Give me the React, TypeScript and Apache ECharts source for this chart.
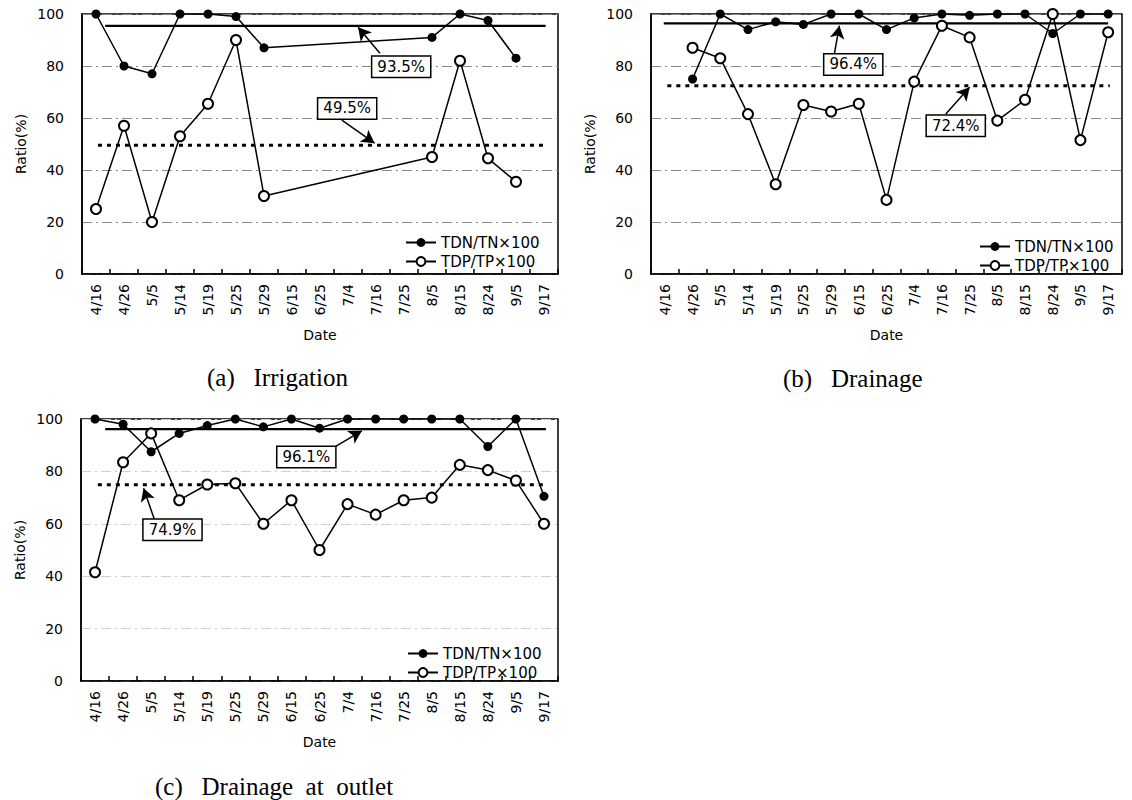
import React, { useEffect, useRef } from "react";
import * as echarts from "echarts";

const categories = ["4/16", "4/26", "5/5", "5/14", "5/19", "5/25", "5/29", "6/15", "6/25", "7/4", "7/16", "7/25", "8/5", "8/15", "8/24", "9/5", "9/17"];

const tdnA = [100, 80, 77, 100, 100, 99, 87, null, null, null, null, null, 91, 100, 97.5, 83, null];
const tdpA = [25, 57, 20, 53, 65.5, 90, 30, null, null, null, null, null, 45, 82, 44.5, 35.5, null];

const tdnB = [null, 75, 100, 94, 97, 96, 100, 100, 94, 98.5, 100, 99.5, 100, 100, 92.5, 100, 100];
const tdpB = [null, 87, 83, 61.5, 34.5, 65, 62.5, 65.5, 28.5, 74, 95.5, 91, 59, 67, 100, 51.5, 93];

const tdnC = [100, 98, 87.5, 94.5, 97.5, 100, 97, 100, 96.5, 100, 100, 100, 100, 100, 89.5, 100, 70.5];
const tdpC = [41.5, 83.5, 94.5, 69, 75, 75.5, 60, 69, 50, 67.5, 63.5, 69, 70, 82.5, 80.5, 76.5, 60];

// mean reference levels (as drawn) and their labels
const tnLevels = [95.4, 96.4, 96.1];
const tpLevels = [49.5, 72.4, 74.9];
const tnLabels = ["93.5%", "96.4%", "96.1%"];
const tpLabels = ["49.5%", "72.4%", "74.9%"];

const captions = ["(a)   Irrigation", "(b)   Drainage", "(c)   Drainage  at  outlet"];
const seriesNames = ["TDN/TN×100", "TDP/TP×100"];
const yTicks = [0, 20, 40, 60, 80, 100];

const FONT = "DejaVu Sans";

const panels = [
  {
    grid: { left: 82, top: 14, width: 476, height: 260 },
    tdn: tdnA, tdp: tdpA,
    tnSpan: [0.33, 16.06], tpSpan: [0.07, 16.1],
    tnBox: [10.9, 79.7], tnArrow: [[10.14, 84.9], [9.36, 94.9]],
    tpBox: [8.97, 63.7], tpArrow: [[8.78, 59.2], [9.95, 50.3]],
    legend: { left: 400, top: 230 },
    caption: { left: 207, top: 365 },
    gridColor: "#8a8a8a",
  },
  {
    grid: { left: 651, top: 14, width: 471, height: 260 },
    tdn: tdnB, tdp: tdpB,
    tnSpan: [-0.04, 16.0], tpSpan: [0.09, 16.06],
    tnBox: [6.8, 80.6], tnArrow: [[6.11, 84.2], [6.3, 95.5]],
    tpBox: [10.5, 57.0], tpArrow: [[10.14, 61.5], [11.0, 71.8]],
    legend: { left: 974, top: 234 },
    caption: { left: 783, top: 366 },
    gridColor: "#8a8a8a",
  },
  {
    grid: { left: 81, top: 419, width: 477, height: 262 },
    tdn: tdnC, tdp: tdpC,
    tnSpan: [0.36, 16.07], tpSpan: [0.1, 16.07],
    tnBox: [7.53, 85.5], tnArrow: [[8.47, 88.9], [9.51, 95.5]],
    tpBox: [2.76, 57.7], tpArrow: [[2.12, 61.5], [1.73, 73.6]],
    legend: { left: 402, top: 641 },
    caption: { left: 155, top: 774 },
    gridColor: "#cfcfcf",
  },
];

function buildOption() {
  const grids: any[] = [];
  const xAxes: any[] = [];
  const yAxes: any[] = [];
  const series: any[] = [];
  const legends: any[] = [];
  const graphics: any[] = [];

  panels.forEach((p, i) => {
    grids.push({ ...p.grid, show: true, borderColor: "#000", borderWidth: 1.5, backgroundColor: "transparent" });
    xAxes.push({
      gridIndex: i,
      type: "category",
      data: categories,
      boundaryGap: true,
      axisLine: { show: true, onZero: false, lineStyle: { color: "#000", width: 1.5 } },
      axisTick: { show: true, inside: true, length: 5, lineStyle: { color: "#000", width: 1.5 } },
      axisLabel: { rotate: 90, interval: 0, fontSize: 14, color: "#000", margin: 10, fontFamily: FONT },
      splitLine: { show: false },
      name: "Date",
      nameLocation: "middle",
      nameGap: 54,
      nameTextStyle: { fontSize: 14, color: "#000", fontFamily: FONT },
    });
    xAxes.push({ gridIndex: i, type: "value", min: -0.5, max: 16.5, show: false });
    yAxes.push({
      gridIndex: i,
      type: "value",
      min: yTicks[0],
      max: yTicks[yTicks.length - 1],
      interval: 20,
      axisLine: { show: true, onZero: false, lineStyle: { color: "#000", width: 1.5 } },
      axisTick: { show: false },
      axisLabel: { fontSize: 14, color: "#000", margin: 18, fontFamily: FONT },
      splitLine: { show: true, lineStyle: { color: p.gridColor, width: 1, type: [10, 4, 2, 4] } },
      name: "Ratio(%)",
      nameLocation: "middle",
      nameGap: 54,
      nameTextStyle: { fontSize: 14, color: "#000", fontFamily: FONT },
    });

    const catX = 2 * i;
    const valX = 2 * i + 1;

    series.push({
      name: seriesNames[0],
      type: "line",
      xAxisIndex: catX,
      yAxisIndex: i,
      data: p.tdn,
      connectNulls: true,
      symbol: "circle",
      symbolSize: 9,
      lineStyle: { color: "#000", width: 1.5 },
      itemStyle: { color: "#000" },
      z: 3,
    });
    series.push({
      name: seriesNames[1],
      type: "line",
      xAxisIndex: catX,
      yAxisIndex: i,
      data: p.tdp,
      connectNulls: true,
      symbol: "emptyCircle",
      symbolSize: 10,
      lineStyle: { color: "#000", width: 1.5 },
      itemStyle: { color: "#000", borderWidth: 1.5 },
      z: 4,
    });

    // mean lines
    series.push({
      type: "line",
      xAxisIndex: valX,
      yAxisIndex: i,
      data: [[p.tnSpan[0], tnLevels[i]], [p.tnSpan[1], tnLevels[i]]],
      symbol: "none",
      silent: true,
      lineStyle: { color: "#000", width: 2.2 },
      z: 2,
    });
    series.push({
      type: "line",
      xAxisIndex: valX,
      yAxisIndex: i,
      data: [[p.tpSpan[0], tpLevels[i]], [p.tpSpan[1], tpLevels[i]]],
      symbol: "none",
      silent: true,
      lineStyle: { color: "#000", width: 3, type: [4, 5] },
      z: 2,
    });

    // annotation boxes with arrows
    const ann = [
      { box: p.tnBox, arrow: p.tnArrow, text: tnLabels[i] },
      { box: p.tpBox, arrow: p.tpArrow, text: tpLabels[i] },
    ];
    ann.forEach((a) => {
      series.push({
        type: "scatter",
        xAxisIndex: valX,
        yAxisIndex: i,
        data: [a.box],
        symbolSize: 0.1,
        silent: true,
        itemStyle: { color: "#000", opacity: 1 },
        label: {
          show: true,
          position: "inside",
          formatter: a.text,
          fontSize: 15,
          fontFamily: FONT,
          color: "#000",
          opacity: 1,
          backgroundColor: "#fff",
          borderColor: "#000",
          borderWidth: 1.5,
          padding: [3, 5, 2, 5],
        },
        markLine: {
          silent: true,
          symbol: ["none", "arrow"],
          symbolSize: [11, 13],
          label: { show: false },
          lineStyle: { color: "#000", width: 1.5, type: "solid", opacity: 1 },
          data: [[{ coord: a.arrow[0] }, { coord: a.arrow[1] }]],
        },
        z: 6,
      });
    });

    legends.push({
      data: seriesNames,
      orient: "vertical",
      left: p.legend.left,
      top: p.legend.top,
      itemWidth: 30,
      itemHeight: 11,
      itemGap: 4,
      selectedMode: false,
      textStyle: { fontSize: 15, color: "#000", fontFamily: FONT },
    });

    graphics.push({
      type: "text",
      left: p.caption.left,
      top: p.caption.top,
      style: { text: captions[i], font: '25px "Liberation Serif"', fill: "#000" },
    });
  });

  return {
    animation: false,
    backgroundColor: "#fff",
    grid: grids,
    xAxis: xAxes,
    yAxis: yAxes,
    legend: legends,
    series,
    graphic: graphics,
  };
}

export default function App() {
  const ref = useRef<HTMLDivElement>(null);
  useEffect(() => {
    if (!ref.current) return;
    const chart = echarts.init(ref.current, undefined, { renderer: "svg" });
    chart.setOption(buildOption() as any);
    return () => chart.dispose();
  }, []);
  return (
    <div
      ref={ref}
      style={{ position: "absolute", left: 0, top: 0, width: 1132, height: 800, background: "#fff" }}
    />
  );
}
